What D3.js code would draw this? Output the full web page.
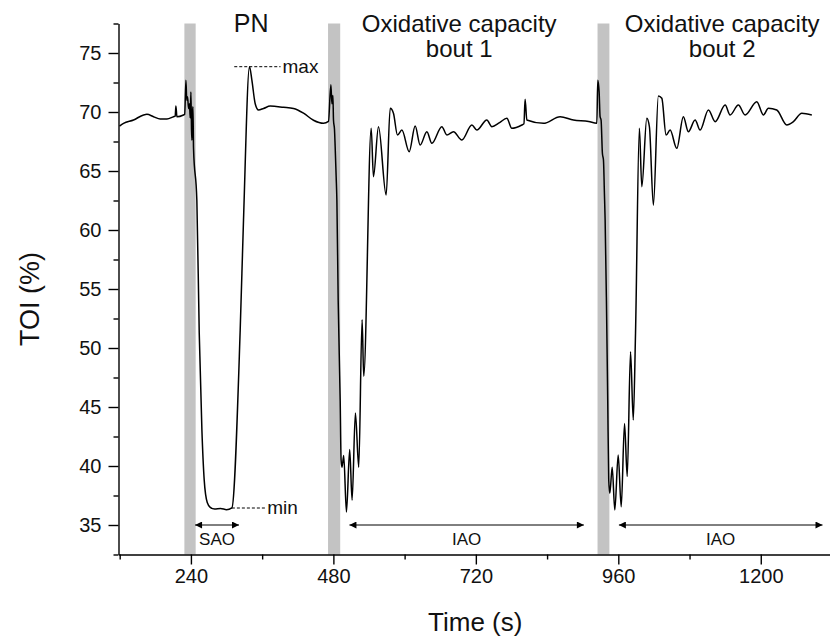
<!DOCTYPE html>
<html>
<head>
<meta charset="utf-8">
<script src="https://cdn.jsdelivr.net/npm/d3@7"></script>
<style>
  html, body { margin: 0; padding: 0; background: #fff; }
  svg { display: block; font-family: "Liberation Sans", Arial, Helvetica, sans-serif; }
</style>
</head>
<body>
<svg id="chart" width="830" height="642"></svg>
<script>
// ---- data ----
const time = [119.7,126.5,143.3,160.2,165.9,177,188.3,199.6,210.7,213.5,214.7,216.4,227.5,229.5,231.6,233,234.3,236,237.6,238.8,240,241,241.7,242.5,243.4,244.4,250,254,258.5,262.4,267.5,272.5,280,290,300,309,323,328.6,338.7,342.7,348.3,353.9,362.3,373.6,396,412.8,429.7,446.5,463.3,471.7,475.8,477.5,479.2,480.2,481.9,483,484.7,485.9,488.1,491.5,493,494.6,497.4,502,507.5,511.5,517.1,522.7,528.4,531.1,543.7,547.5,556,568.9,575.7,581.2,588,595.4,607.7,617.8,626.2,637.5,645.9,662.7,671.2,682.3,696.4,713.3,721.7,738.5,747,760,772.2,780.6,797.5,801,803,805.9,833.9,862,884.4,910,923.8,925.4,927.7,929.3,931,933.2,935,936.6,937.8,940,942.2,943.9,945.7,949.7,954.1,959.8,964.9,970.5,975,980.6,985.2,989,995.5,999.6,1008,1012.4,1019.1,1027.5,1033.3,1040.5,1047.3,1058.5,1069.6,1078,1089.4,1097.8,1111.8,1123.2,1140,1148.3,1162.3,1173.6,1193.3,1204.4,1212.8,1226.9,1243.8,1254.9,1269.1,1286];
const toi = [68.81,69.04,69.32,69.75,69.8,69.6,69.4,69.4,69.6,69.65,70.5,69.6,69.75,69.8,72.7,71.0,71.3,70.3,70.7,69.5,71.7,68.5,67.6,69.8,70.45,66.9,62.5,51.3,43.05,38.8,36.9,36.5,36.35,36.4,36.3,36.45,51.5,60.85,73.84,72.7,70.7,70.17,70.3,70.5,70.4,70.3,69.9,69.3,69.04,69.2,72.3,70.7,71.4,69.3,68.5,67.06,64.5,62.5,54.0,45.5,40.5,39.9,40.9,36.1,41.4,37.1,44.5,39.9,52.4,47.6,68.62,64.52,68.75,62.97,70.31,69.89,68.05,68.47,66.64,68.81,67.2,68.33,67.35,68.76,68.05,68.33,67.63,68.9,68.47,69.32,68.76,69.1,69.47,68.62,68.9,69.0,71.08,69.32,69.04,69.6,69.32,69.2,69.04,72.7,71.7,69.6,69.32,66.5,65.93,63.1,60.85,54.0,45.5,38.8,37.69,39.9,36.27,40.93,36.55,43.6,39.1,49.69,43.9,51.25,68.62,63.67,69.47,68.75,62.1,71.36,71.16,68.05,68.47,66.92,69.6,68.33,69.32,68.47,70.17,69.18,70.59,69.75,70.59,69.75,70.87,69.75,70.31,70.17,68.9,69.18,69.89,69.75];

const bandStart = [229, 471, 925];
const bandEnd   = [248, 491.5, 945];

const xMajorTicks = [240, 480, 720, 960, 1200];
const xMinorTicks = [120, 360, 600, 840, 1080, 1320];
const yMajorTicks = [35, 40, 45, 50, 55, 60, 65, 70, 75];
const yMinorTicks = [32.5, 37.5, 42.5, 47.5, 52.5, 57.5, 62.5, 67.5, 72.5, 77.5];

const arrowLabels = ["SAO", "IAO", "IAO"];
const arrowStart  = [247, 507, 961];
const arrowEnd    = [321, 902, 1304];
const arrowLevel  = 35;

const maxLevel = 73.84, maxFrom = 313, maxTo = 391;
const minLevel = 36.44, minFrom = 309, minTo = 367;

const titleLines = [["PN"], ["Oxidative capacity", "bout 1"], ["Oxidative capacity", "bout 2"]];
const titleTimes = [341.6, 692, 1135];

// ---- layout ----
const svg = d3.select("#chart");
const L = 118.5, R = 832, T = 23.5, B = 554.5;
const x = d3.scaleLinear().domain([118, 1320]).range([L, R]);
const y = d3.scaleLinear().domain([32.5, 77.5]).range([B, T]);

const defs = svg.append("defs");
defs.append("marker").attr("id", "ah").attr("viewBox", "0 0 10 10")
  .attr("refX", 10).attr("refY", 5).attr("markerWidth", 11).attr("markerHeight", 7)
  .attr("markerUnits", "userSpaceOnUse").attr("orient", "auto-start-reverse")
  .append("path").attr("d", "M0,0 L10,5 L0,10 Z").attr("fill", "#000");

// gray bands
svg.append("g").selectAll("rect").data(bandStart).join("rect")
  .attr("x", (d) => x(d)).attr("width", (d, i) => x(bandEnd[i]) - x(d))
  .attr("y", T).attr("height", B - T).attr("fill", "#c3c3c3");

// trace
const pts = time.map((t, i) => [t, toi[i]]);
svg.append("path").datum(pts)
  .attr("d", d3.line().curve(d3.curveMonotoneX).x(d => x(d[0])).y(d => y(d[1])))
  .attr("fill", "none").attr("stroke", "#000").attr("stroke-width", 1.5)
  .attr("stroke-linejoin", "round");

// axes
svg.append("g").attr("transform", `translate(0,${B})`)
  .call(d3.axisBottom(x).tickValues(xMajorTicks).tickFormat(d3.format("d"))
    .tickSize(10).tickSizeOuter(0).tickPadding(4));
svg.append("g").attr("transform", `translate(0,${B})`)
  .call(d3.axisBottom(x).tickValues(xMinorTicks).tickSize(5).tickSizeOuter(0).tickFormat(""))
  .select(".domain").remove();
svg.append("g").attr("transform", `translate(${L},0)`)
  .call(d3.axisLeft(y).tickValues(yMajorTicks).tickSize(10).tickSizeOuter(0).tickPadding(7));
svg.append("g").attr("transform", `translate(${L},0)`)
  .call(d3.axisLeft(y).tickValues(yMinorTicks).tickSize(5).tickSizeOuter(0).tickFormat(""))
  .select(".domain").remove();

svg.selectAll(".tick line, .domain").attr("stroke", "#000").attr("stroke-width", 1.4);
svg.selectAll(".tick text").attr("font-size", 20).attr("fill", "#111")
  .attr("font-family", "'Liberation Sans', Arial, sans-serif");

// axis titles
svg.append("text").attr("x", (L + R) / 2).attr("y", 631).attr("text-anchor", "middle")
  .attr("font-size", 26).attr("fill", "#111").text("Time (s)");
svg.append("text").attr("transform", `translate(39,${(T + B) / 2 + 10}) rotate(-90)`)
  .attr("text-anchor", "middle").attr("font-size", 27).attr("fill", "#111").text("TOI (%)");

// section titles
titleLines.forEach((lines, i) => {
  const t = svg.append("text").attr("text-anchor", "middle").attr("fill", "#111")
    .attr("font-size", i === 0 ? 25 : 24);
  lines.forEach((s, j) => {
    t.append("tspan").attr("x", x(titleTimes[i])).attr("y", 32 + j * 25).text(s);
  });
});

// max / min dashed guides
svg.append("line").attr("x1", x(maxFrom)).attr("x2", x(maxTo)).attr("y1", y(maxLevel)).attr("y2", y(maxLevel))
  .attr("stroke", "#000").attr("stroke-width", 1).attr("stroke-dasharray", "3,2");
svg.append("text").attr("x", x(maxTo) + 2).attr("y", y(maxLevel) + 6).attr("font-size", 19)
  .attr("fill", "#111").text("max");
svg.append("line").attr("x1", x(minFrom)).attr("x2", x(minTo)).attr("y1", y(minLevel)).attr("y2", y(minLevel))
  .attr("stroke", "#000").attr("stroke-width", 1).attr("stroke-dasharray", "3,2");
svg.append("text").attr("x", x(minTo) + 1).attr("y", y(minLevel) + 6).attr("font-size", 19)
  .attr("fill", "#111").text("min");

// double-headed arrows
arrowLabels.forEach((lab, i) => {
  svg.append("line").attr("x1", x(arrowStart[i])).attr("x2", x(arrowEnd[i]))
    .attr("y1", y(arrowLevel)).attr("y2", y(arrowLevel))
    .attr("stroke", "#000").attr("stroke-width", 1)
    .attr("marker-start", "url(#ah)").attr("marker-end", "url(#ah)");
  svg.append("text").attr("x", (x(arrowStart[i]) + x(arrowEnd[i])) / 2).attr("y", y(arrowLevel) + 20)
    .attr("text-anchor", "middle").attr("font-size", 17).attr("fill", "#111").text(lab);
});
</script>
</body>
</html>
